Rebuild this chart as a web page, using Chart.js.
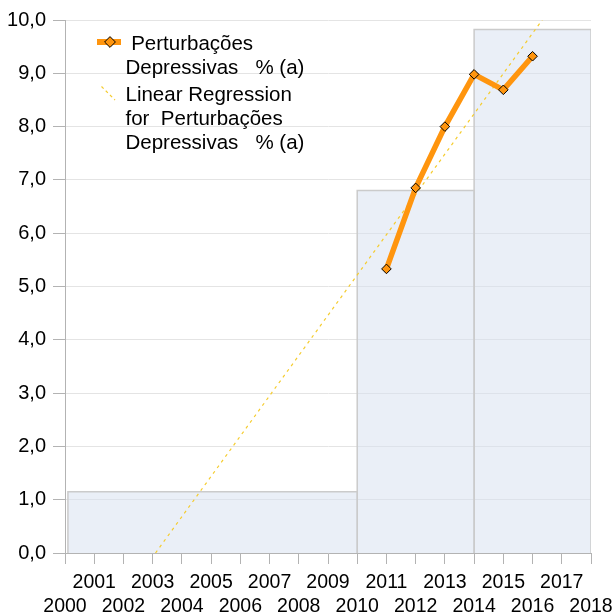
<!DOCTYPE html>
<html>
<head>
<meta charset="utf-8">
<script src="https://cdn.jsdelivr.net/npm/chart.js@4/dist/chart.umd.min.js"></script>
<style>
  html, body { margin: 0; padding: 0; background: #ffffff; }
  #wrap { width: 615px; height: 616px; }
</style>
</head>
<body>
<div id="wrap"><canvas id="c" width="615" height="616"></canvas></div>
<script>
// ---- data ----
const years = [2011, 2012, 2013, 2014, 2015, 2016];
const depressiveValues = [5.33, 6.85, 8.0, 8.98, 8.69, 9.32];

const boxStarts = [2000.1, 2010, 2014];
const boxEnds = [2010, 2014, 2018];
const boxHeights = [1.15, 6.8, 9.82];

const xMin = 2000, xMax = 2018;
const yTicks = [0, 1, 2, 3, 4, 5, 6, 7, 8, 9, 10];

const seriesLabel = [' Perturbações', 'Depressivas   % (a)'];
const regressionLabel = ['Linear Regression', 'for  Perturbações', 'Depressivas   % (a)'];

// ---- least-squares regression of the series ----
const n = years.length;
const mx = years.reduce((a, b) => a + b, 0) / n;
const my = depressiveValues.reduce((a, b) => a + b, 0) / n;
let sxy = 0, sxx = 0;
for (let i = 0; i < n; i++) { sxy += (years[i] - mx) * (depressiveValues[i] - my); sxx += (years[i] - mx) ** 2; }
const slope = sxy / sxx;
const intercept = my - slope * mx;
const regX = y => (y - intercept) / slope;
const regData = [{ x: regX(yTicks[0]), y: yTicks[0] }, { x: regX(yTicks[yTicks.length - 1]), y: yTicks[yTicks.length - 1] }];

const ORANGE = '#ff950e';
const GOLD = '#f5cc2e';
const FONT = "'Liberation Sans', Arial, sans-serif";

const boxDatasets = boxStarts.map((s, i) => ({
  type: 'line',
  data: [{ x: s, y: 0 }, { x: s, y: boxHeights[i] }, { x: boxEnds[i], y: boxHeights[i] }, { x: boxEnds[i], y: 0 }],
  fill: 'origin',
  backgroundColor: 'rgba(214,224,240,0.5)',
  borderColor: '#cbcbcb',
  borderWidth: 1.5,
  pointRadius: 0,
  tension: 0,
  order: 5 + i
}));

const legendPlugin = {
  id: 'customLegend',
  afterDraw(chart) {
    const ctx = chart.ctx;
    ctx.save();
    // item 1 symbol
    ctx.strokeStyle = ORANGE;
    ctx.lineWidth = 6;
    ctx.beginPath(); ctx.moveTo(97, 42); ctx.lineTo(121, 42); ctx.stroke();
    ctx.fillStyle = ORANGE; ctx.strokeStyle = '#000'; ctx.lineWidth = 1;
    ctx.beginPath();
    ctx.moveTo(110, 36.6); ctx.lineTo(115.4, 42); ctx.lineTo(110, 47.4); ctx.lineTo(104.6, 42); ctx.closePath();
    ctx.fill(); ctx.stroke();
    // item 2 symbol
    ctx.strokeStyle = GOLD; ctx.lineWidth = 1.2; ctx.setLineDash([3, 3]);
    ctx.beginPath(); ctx.moveTo(101.5, 86.5); ctx.lineTo(115, 100); ctx.stroke();
    ctx.setLineDash([]);
    // texts
    ctx.fillStyle = '#000';
    ctx.font = '20.5px ' + FONT;
    ctx.textBaseline = 'middle';
    ctx.textAlign = 'left';
    const x0 = 125.5;
    [44, 68].forEach((y, i) => ctx.fillText(seriesLabel[i], x0, y));
    [95, 119, 143].forEach((y, i) => ctx.fillText(regressionLabel[i], x0, y));
    ctx.restore();
  }
};

new Chart(document.getElementById('c'), {
  type: 'line',
  data: {
    datasets: [
      {
        data: years.map((y, i) => ({ x: y, y: depressiveValues[i] })),
        borderColor: ORANGE,
        borderWidth: 5.5,
        pointStyle: 'rectRot',
        pointRadius: 4.8,
        pointBackgroundColor: ORANGE,
        pointBorderColor: '#000',
        pointBorderWidth: 1,
        fill: false,
        tension: 0,
        order: 0
      },
      {
        data: regData,
        borderColor: GOLD,
        borderWidth: 1.2,
        borderDash: [3, 4],
        pointRadius: 0,
        fill: false,
        order: 1
      },
      ...boxDatasets
    ]
  },
  options: {
    responsive: false,
    animation: false,
    events: [],
    layout: { padding: { top: 20, right: 24, bottom: 0, left: 0 } },
    plugins: { legend: { display: false }, tooltip: { enabled: false } },
    scales: {
      x: {
        type: 'linear',
        min: xMin, max: xMax,
        afterFit: s => { s.height = 63; s.paddingLeft = 0; s.paddingRight = 0; },
        afterBuildTicks: s => { const t = []; for (let v = xMin; v <= xMax; v++) t.push({ value: v }); s.ticks = t; },
        ticks: {
          autoSkip: false, maxRotation: 0, minRotation: 0,
          color: '#000', padding: 7,
          font: { family: FONT, size: 19.5, lineHeight: 1.22 },
          callback: v => (v % 2 === 1 ? [String(v), ''] : ['', String(v)])
        },
        grid: { drawOnChartArea: false, tickLength: 11, color: '#b3b3b3', tickColor: '#b3b3b3' },
        border: { color: '#b3b3b3', width: 1 }
      },
      y: {
        min: yTicks[0], max: yTicks[yTicks.length - 1],
        afterFit: s => { s.width = 65; s.paddingTop = 0; s.paddingBottom = 0; },
        afterBuildTicks: s => { s.ticks = yTicks.map(v => ({ value: v })); },
        ticks: {
          color: '#000', padding: 7,
          font: { family: FONT, size: 20 },
          callback: v => v.toFixed(1).replace('.', ',')
        },
        grid: { color: '#e4e4e4', tickColor: '#b3b3b3', tickLength: 12 },
        border: { color: '#b3b3b3', width: 1 }
      }
    }
  },
  plugins: [legendPlugin]
});
</script>
</body>
</html>
